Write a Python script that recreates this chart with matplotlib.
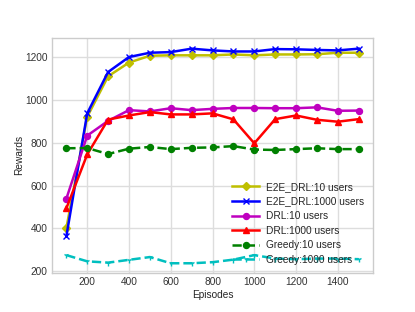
import matplotlib
matplotlib.use("Agg")
import matplotlib.pyplot as plt

plt.rcParams['font.family'] = ['Liberation Sans', 'DejaVu Sans']

episodes = [100, 200, 300, 400, 500, 600, 700, 800, 900, 1000, 1100, 1200, 1300, 1400, 1500]
e2e_10 = [400, 921, 1110, 1174, 1206, 1208, 1208, 1208, 1212, 1208, 1212, 1212, 1213, 1220, 1220]
e2e_1000 = [362, 937, 1130, 1200, 1220, 1223, 1239, 1231, 1226, 1226, 1237, 1236, 1233, 1231, 1239]
drl_10 = [538, 833, 902, 952, 946, 961, 952, 958, 962, 962, 961, 961, 965, 949, 950]
drl_1000 = [493, 745, 908, 927, 943, 932, 932, 937, 909, 797, 910, 927, 907, 898, 910]
greedy_10 = [774, 775, 747, 772, 780, 770, 776, 778, 784, 768, 766, 770, 774, 770, 770]
greedy_1000 = [275, 246, 240, 253, 266, 237, 237, 242, 254, 275, 259, 256, 259, 259, 256]

series = [
    ("E2E_DRL:10 users", e2e_10, 'y', 'D', '-'),
    ("E2E_DRL:1000 users", e2e_1000, 'b', 'x', '-'),
    ("DRL:10 users", drl_10, 'm', 'o', '-'),
    ("DRL:1000 users", drl_1000, 'r', '^', '-'),
    ("Greedy:10 users", greedy_10, 'g', 'o', '--'),
    ("Greedy:1000 users", greedy_1000, 'c', '1', '--'),
]

FS = 7.3

fig = plt.figure(figsize=(4.15, 3.12), dpi=100)
ax = fig.add_axes([0.1246, 0.126, 0.775, 0.753])

for label, vals, c, m, ls in series:
    ax.plot(episodes, vals, color=c, marker=m, linestyle=ls, linewidth=1.8,
            markersize=4.3, label=label)

ax.set_xticks([200, 400, 600, 800, 1000, 1200, 1400])
ax.set_yticks([200, 400, 600, 800, 1000, 1200])
ax.set_ylim(193, 1290)
ax.grid(True, color='#dddddd', linewidth=1)
ax.set_axisbelow(True)
for s in ax.spines.values():
    s.set_color('#cccccc')
    s.set_linewidth(1)
ax.tick_params(axis='both', labelsize=FS, labelcolor='#333333', length=0, pad=3)
ax.set_xlabel("Episodes", fontsize=FS, color='#262626', labelpad=2)
ax.set_ylabel("Rewards", fontsize=FS, color='#262626', labelpad=0.5)

leg = ax.legend(loc='lower right', bbox_to_anchor=(1.0, -0.005), frameon=False,
                fontsize=FS, handlelength=2.75, handletextpad=0.65, labelspacing=0.45)
for t in leg.get_texts():
    t.set_color('#262626')

fig.savefig("out.png", dpi=100)
